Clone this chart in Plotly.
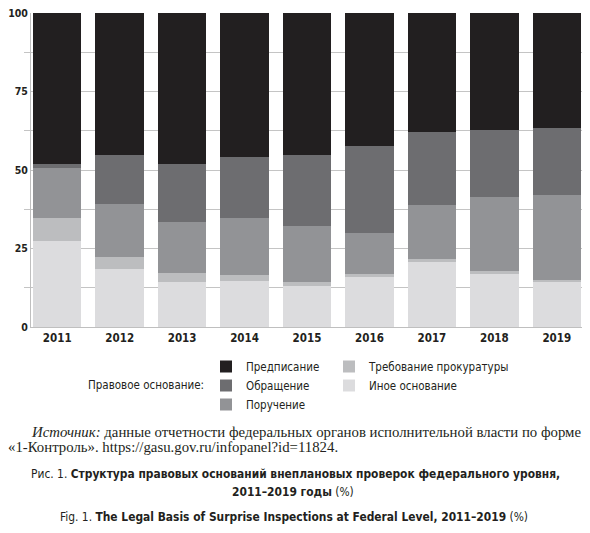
import plotly.graph_objects as go

years = ["2011", "2012", "2013", "2014", "2015", "2016", "2017", "2018", "2019"]

# shares, %, stacked bottom -> top
inoe = [27.4, 18.4, 14.4, 14.5, 12.9, 15.9, 20.7, 16.8, 14.2]
trebovanie = [7.3, 3.8, 2.8, 2.0, 1.5, 1.0, 1.1, 1.1, 0.9]
poruchenie = [16.0, 16.9, 16.4, 18.3, 17.9, 13.1, 16.9, 23.5, 26.9]
obrashchenie = [1.1, 15.7, 18.3, 19.4, 22.5, 27.6, 23.3, 21.2, 21.5]
predpisanie = [48.2, 45.2, 48.1, 45.8, 45.2, 42.4, 38.0, 37.4, 36.5]

series = [
    ("Иное основание", inoe, "#dcdcde", "legend2"),
    ("Требование прокуратуры", trebovanie, "#bcbdbf", "legend2"),
    ("Поручение", poruchenie, "#929396", "legend"),
    ("Обращение", obrashchenie, "#6d6d70", "legend"),
    ("Предписание", predpisanie, "#221f20", "legend"),
]

narrow = "DejaVu Sans Condensed, Roboto, sans-serif"
serif = "Liberation Serif, Times New Roman, serif"
ink = "#231f20"

# the page body adds 8px around the plot, so the figure is 8px smaller
W, H = 582, 525

fig = go.Figure()
for name, vals, color, leg in series:
    fig.add_trace(go.Bar(
        x=years, y=vals, name=name, legend=leg,
        marker=dict(color=color, line=dict(width=0)),
    ))

leg_style = dict(
    xref="container", yref="container",
    xanchor="left", yanchor="top", orientation="v",
    traceorder="reversed", bgcolor="rgba(0,0,0,0)",
    font=dict(family=narrow, size=11.5, color=ink),
)

fig.update_layout(
    width=W, height=H,
    margin=dict(l=23, r=7, t=5, b=206, autoexpand=False),
    paper_bgcolor="white", plot_bgcolor="white",
    barmode="stack", bargap=0.224,
    showlegend=True,
    font=dict(family=narrow, color=ink, size=12),
    legend=dict(x=(206 - 8) / W, y=1 - (352 - 8) / H, **leg_style),
    legend2=dict(x=(329 - 8) / W, y=1 - (352 - 8) / H, **leg_style),
)

fig.update_xaxes(
    type="category", range=[-0.42, 8.42],
    showline=True, linecolor="#bfbfbf", linewidth=1,
    ticks="", tickfont=dict(family=narrow, size=11.5, weight="bold", color=ink),
    showgrid=False,
)
fig.update_yaxes(
    range=[0, 100], dtick=25, tick0=0,
    showline=True, linecolor="#bfbfbf", linewidth=1,
    ticks="",
    showgrid=True, gridcolor="#c4c4c4", gridwidth=1,
    minor=dict(dtick=12.5, showgrid=True, gridcolor="#c4c4c4",
               ticks="outside", ticklen=6, tickcolor="#c4c4c4"),
    tickfont=dict(family=narrow, size=10.5, weight="bold", color=ink),
    ticklabeloverflow="allow",
    zeroline=False,
)

# plot area on the page: x 31..583, y 13..327
def px(x):
    return (x - 31) / 552

def py(y):
    return (327 - y) / 314

notes = [
    ("Правовое основание:", 204, 385, "right", narrow, 11.5),
    ("<i>Источник:</i> данные отчетности федеральных органов исполнительной власти по форме",
     31, 432, "left", serif, 14.8),
    ("«1-Контроль». https://gasu.gov.ru/infopanel?id=11824.", 8, 447, "left", serif, 14.8),
    ("Рис. 1. <b>Структура правовых оснований внеплановых проверок федерального уровня,</b>",
     31, 474, "left", narrow, 11.9),
    ("<b>2011–2019 годы</b> (%)", 232, 492, "left", narrow, 11.9),
    ("Fig. 1. <b>The Legal Basis of Surprise Inspections at Federal Level, 2011–2019</b> (%)",
     60, 517, "left", narrow, 11.9),
]
for text, x, y, align, fam, size in notes:
    fig.add_annotation(
        text=text, xref="paper", yref="paper", x=px(x), y=py(y),
        xanchor=align, yanchor="middle", showarrow=False,
        borderpad=0, borderwidth=0,
        font=dict(family=fam, size=size, color=ink),
    )

fig.write_html("out.html")
